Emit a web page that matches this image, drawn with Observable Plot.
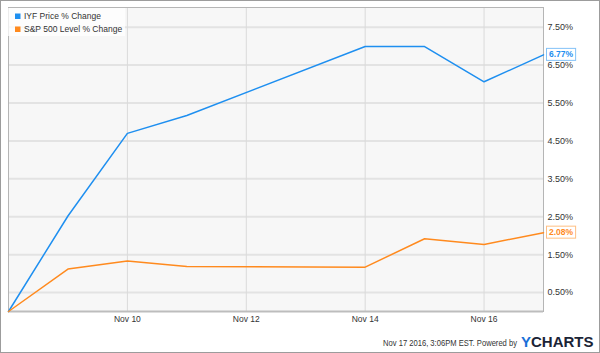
<!DOCTYPE html>
<html><head><meta charset="utf-8">
<script src="https://cdn.jsdelivr.net/npm/d3@7"></script>
<script src="https://cdn.jsdelivr.net/npm/@observablehq/plot@0.6"></script>
<style>
body{margin:0;background:#fff;}
#wrap{position:relative;width:600px;height:353px;overflow:hidden;}
#border{position:absolute;left:0;top:0;width:600px;height:353px;box-sizing:border-box;border:1px solid #9c9c9c;pointer-events:none;}
</style></head><body><div id="wrap"><div id="chart"></div><div id="border"></div></div>
<script>
const dates = ["2016-11-08","2016-11-09","2016-11-10","2016-11-11","2016-11-14","2016-11-15","2016-11-16","2016-11-17"];
const iyfValues = [0, 2.52, 4.70, 5.17, 6.99, 6.99, 6.06, 6.77];
const spxValues = [0, 1.12, 1.33, 1.19, 1.17, 1.92, 1.77, 2.08];
const seriesNames = ["IYF Price % Change", "S&P 500 Level % Change"];
const seriesColors = ["#1e8ff0", "#ff8a1e"];
const yTicks = [0.5, 1.5, 2.5, 3.5, 4.5, 5.5, 6.5, 7.5];
const xTickDates = ["2016-11-10", "2016-11-12", "2016-11-14", "2016-11-16"];
const footerText = "Nov 17 2016, 3:06PM EST. Powered by";

const seriesValues = [iyfValues, spxValues];
const data = [];
seriesNames.forEach((name, s) => {
  dates.forEach((d, i) => data.push({date: new Date(d), value: seriesValues[s][i], series: name}));
});
const xTicks = xTickDates.map(d => new Date(d));
const font = "'Liberation Sans', Arial, sans-serif";

const chart = Plot.plot({
  width: 600, height: 353,
  marginTop: 7, marginRight: 57, marginBottom: 42, marginLeft: 8,
  style: {fontFamily: font, fontSize: "9px", color: "#333", background: "#fff", overflow: "visible"},
  x: {type: "utc", domain: [new Date(dates[0]), new Date(dates[dates.length - 1])]},
  y: {domain: [0, 8.02]},
  color: {domain: seriesNames, range: seriesColors},
  marks: [
    Plot.frame({fill: "#f7f7f7", stroke: null}),
    Plot.gridY(yTicks, {stroke: "#e3e3e3", strokeOpacity: 1, strokeWidth: 2}),
    Plot.gridX(xTicks, {stroke: "#dadada", strokeOpacity: 1}),
    Plot.frame({stroke: "#b5b5b5"}),
    Plot.ruleY([0], {stroke: "#bdbdbd", strokeWidth: 2}),
    Plot.axisY(yTicks, {anchor: "right", tickSize: 0, tickPadding: 4, label: null, tickFormat: d => d.toFixed(2) + "%", fill: "#333", fontSize: 9}),
    Plot.axisX(xTicks, {anchor: "bottom", tickSize: 0, tickPadding: 4, label: null, tickFormat: d3.utcFormat("%b %-d"), fill: "#333", fontSize: 8.5}),
    Plot.line(data, {x: "date", y: "value", stroke: "series", z: "series", strokeWidth: 1.5})
  ]
});
document.getElementById("chart").appendChild(chart);

const svg = d3.select(chart);
const sx = chart.scale("x"), sy = chart.scale("y");

// legend
const lg = svg.append("g").attr("text-anchor", "start");
lg.append("rect").attr("x", 8).attr("y", 8).attr("width", 117).attr("height", 28).attr("fill", "#fff").attr("fill-opacity", 0.75);
seriesNames.forEach((name, i) => {
  const cy = 16 + i * 13;
  lg.append("rect").attr("x", 15).attr("y", cy - 2.5).attr("width", 5.5).attr("height", 5.5).attr("fill", seriesColors[i]);
  lg.append("text").attr("x", 24).attr("y", cy).attr("dy", "0.36em").attr("text-anchor", "start").attr("font-size", 8.5).attr("fill", "#333").attr("font-family", font).text(name);
});

// end labels
seriesNames.forEach((name, i) => {
  const vals = seriesValues[i];
  const last = vals[vals.length - 1];
  const px = sx.apply(new Date(dates[dates.length - 1])) + 3;
  const py = sy.apply(last);
  const g = svg.append("g").attr("text-anchor", "start");
  const rect = g.append("rect").attr("fill", "#fff").attr("stroke", seriesColors[i]).attr("stroke-opacity", 0.55);
  const t = g.append("text").attr("x", px + 3).attr("y", py).attr("dy", "0.36em").attr("text-anchor", "start")
    .attr("font-size", 8.5).attr("font-weight", "bold").attr("font-family", font).attr("fill", seriesColors[i])
    .text(last.toFixed(2) + "%");
  const w = t.node().getComputedTextLength();
  rect.attr("x", px + 0.5).attr("y", py - 6).attr("width", w + 5).attr("height", 12);
});

// footer
const foot = svg.append("text").attr("x", 0).attr("y", 0).attr("text-anchor", "end").attr("font-size", 9)
  .attr("font-family", font).attr("fill", "#333").text(footerText);
const fw = foot.node().getComputedTextLength();
foot.attr("transform", `translate(517,346) scale(${134 / fw},1)`);
const logoY = svg.append("text").attr("x", 521).attr("y", 347).attr("text-anchor", "start").attr("font-size", 15)
  .attr("font-weight", "bold").attr("font-family", font).attr("fill", "#1a6fd8").text("Y");
const yw = logoY.node().getComputedTextLength();
svg.append("text").attr("x", 521 + yw).attr("y", 347).attr("text-anchor", "start").attr("font-size", 15)
  .attr("font-weight", "bold").attr("font-family", font).attr("fill", "#1b2436").text("CHARTS");
</script></body></html>
